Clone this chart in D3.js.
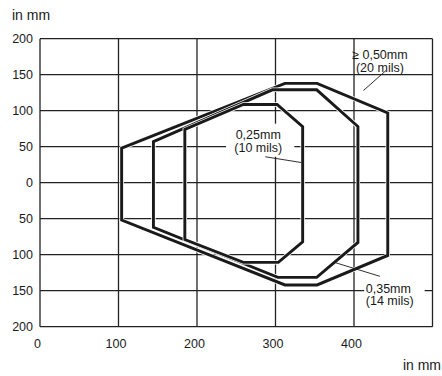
<!DOCTYPE html>
<html><head><meta charset="utf-8">
<script src="https://cdn.jsdelivr.net/npm/d3@7"></script>
<style>body{margin:0;background:#fff}svg{display:block}text{font-family:"Liberation Sans",Arial,Helvetica,sans-serif;fill:#1a1a1a}</style>
</head><body><svg id="c" width="442" height="376"></svg>
<script>
const xTicks = [0, 100, 200, 300, 400];
const xGrid = [0, 100, 200, 300, 400, 500];
const yTicks = [200, 150, 100, 50, 0, -50, -100, -150, -200];
const yTickLabels = ["200","150","100","50","0","50","100","150","200"];
const axisUnit = "in mm";

const shape20mils = [[104,48],[312,138],[353,138],[443,97],[443,-101],[353,-142],[312,-142],[104,-52]];
const shape14mils = [[144.5,57],[296,129],[352.5,129],[405,78],[405,-83],[352.5,-131.5],[303,-131.5],[144.5,-62]];
const shape10mils = [[184.5,74],[259,108.6],[302,108.6],[334.6,78],[334.6,-82],[303.6,-110.6],[259,-110.6],[184.5,-79]];

const labels = [
  {lines:["\u2265 0,50mm","(20 mils)"], at:[433,171.5], anchor:"middle", box:[385,185,157,127], lead:[[441,156],[412,128]]},
  {lines:["0,25mm","(10 mils)"], at:[278,60.5], anchor:"middle", box:[237,324,82,36], lead:[[287,36],[333,28]]},
  {lines:["0,35mm","(14 mils)"], at:[415,-152.5], anchor:"start", box:[413,490,-128,-172], lead:[[376,-111],[433,-130]]}
];

const svg = d3.select("#c");
const x = d3.scaleLinear().domain([0,500]).range([40,432.5]);
const y = d3.scaleLinear().domain([-200,200]).range([326.7,38.7]);

// grid
const g = svg.append("g").attr("stroke","#222").attr("stroke-width",1.3);
g.selectAll("line.v").data(xGrid).join("line")
 .attr("x1",d=>x(d)).attr("x2",d=>x(d)).attr("y1",y(200)).attr("y2",y(-200));
g.selectAll("line.h").data(yTicks).join("line")
 .attr("y1",d=>y(d)).attr("y2",d=>y(d)).attr("x1",x(0)).attr("x2",x(500));

// tick labels
svg.selectAll("text.yt").data(yTicks).join("text")
 .attr("x",33).attr("y",d=>y(d)).attr("dy","0.33em").attr("text-anchor","end")
 .attr("font-size",12.5).text((d,i)=>yTickLabels[i]);
svg.selectAll("text.xt").data(xTicks).join("text")
 .attr("x",d=>x(d)-2.5).attr("y",348).attr("text-anchor","middle")
 .attr("font-size",12.5).text(d=>d);
svg.append("text").attr("x",12).attr("y",20).attr("font-size",14).text(axisUnit);
svg.append("text").attr("x",441).attr("y",370).attr("text-anchor","end").attr("font-size",14).text(axisUnit);

// label boxes (white)
labels.forEach(l=>{
  svg.append("rect").attr("x",x(l.box[0])).attr("y",y(l.box[2]))
   .attr("width",x(l.box[1])-x(l.box[0])).attr("height",y(l.box[3])-y(l.box[2])).attr("fill","#fff");
});

// shapes
const line = d3.line().x(d=>x(d[0])).y(d=>y(d[1])).curve(d3.curveLinearClosed);
[shape20mils, shape14mils, shape10mils].forEach(s=>{
  svg.append("path").attr("d",line(s)).attr("fill","none").attr("stroke","#fff").attr("stroke-width",4.4).attr("stroke-linejoin","miter");
  svg.append("path").attr("d",line(s)).attr("fill","none").attr("stroke","#1a1a1a").attr("stroke-width",2.9).attr("stroke-linejoin","miter");
});

// labels
labels.forEach(l=>{
  const t = svg.append("text").attr("x",x(l.at[0])).attr("y",y(l.at[1])).attr("text-anchor",l.anchor).attr("font-size",12.5);
  l.lines.forEach((s,i)=>t.append("tspan").attr("x",x(l.at[0])).attr("dy",i?12.5:0).text(s));
  svg.append("line").attr("x1",x(l.lead[0][0])).attr("y1",y(l.lead[0][1]))
   .attr("x2",x(l.lead[1][0])).attr("y2",y(l.lead[1][1])).attr("stroke","#1a1a1a").attr("stroke-width",0.9);
});
</script></body></html>
